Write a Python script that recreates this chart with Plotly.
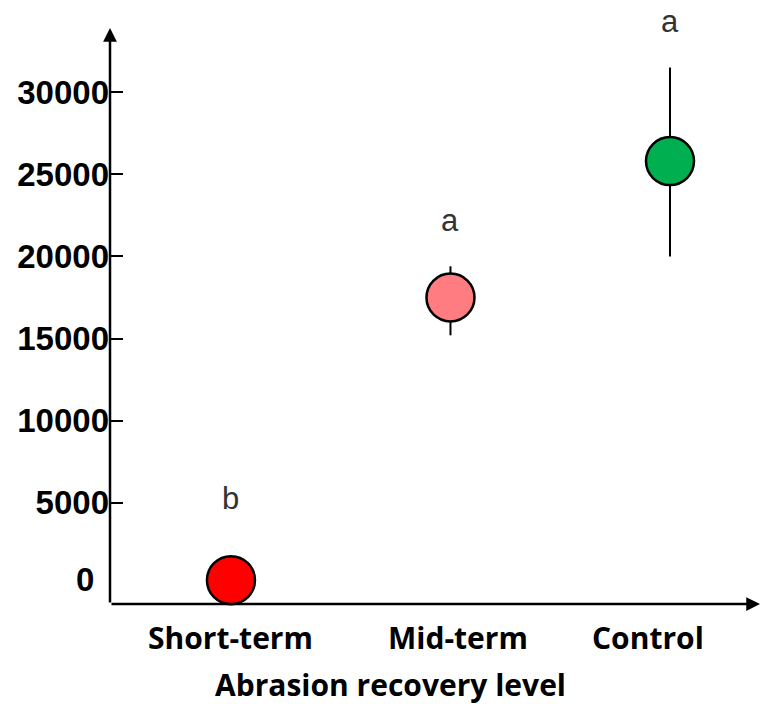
import plotly.graph_objects as go

categories = ["Short-term", "Mid-term", "Control"]
means = [300, 17500, 25800]
err_plus = [0, 1900, 5700]
err_minus = [0, 2300, 5800]
colors = ["#FF0000", "#FF7C80", "#00B050"]
letters = ["b", "a", "a"]
letter_y = [5300, 22200, 34300]
y_ticks = [5000, 10000, 15000, 20000, 25000, 30000]
y_ticktext = ["5000", "10000", "15000", "20000", "25000", "30000"]

xpos = list(range(len(categories)))
Y0, Y1 = -1150, 33900
label_shift = [0, 8, -22]  # pixel nudges of category labels

fig = go.Figure()
fig.add_trace(go.Scatter(
    x=xpos, y=means, mode="markers",
    marker=dict(size=48, color=colors, line=dict(color="black", width=2.5)),
    error_y=dict(type="data", symmetric=False, array=err_plus, arrayminus=err_minus,
                 color="black", thickness=2, width=0),
    cliponaxis=False, showlegend=False,
))

for xi, t, ly in zip(xpos, letters, letter_y):
    fig.add_annotation(x=xi, y=(ly - Y0) / (Y1 - Y0), xref="x", yref="paper", text=t,
                       showarrow=False, yanchor="middle",
                       font=dict(family="Liberation Sans", size=31, color="#333333"))

for xi, c, s in zip(xpos, categories, label_shift):
    fig.add_annotation(x=xi, y=0, xref="x", yref="paper", text="<b>%s</b>" % c,
                       showarrow=False, xshift=s, yshift=-33, yanchor="middle",
                       font=dict(family="Open Sans", size=30, color="black"))

# zero label (no tick mark in original)
fig.add_annotation(x=0, y=0, xref="paper", yref="y", text="<b>0</b>", showarrow=False,
                   xanchor="right", xshift=-14, yshift=6,
                   font=dict(family="Liberation Sans", size=33, color="black"))

# axis arrows
fig.add_annotation(x=0, y=1, xref="paper", yref="paper", ax=0, ay=576,
                   showarrow=True, arrowhead=2, arrowsize=1.1, arrowwidth=2.5,
                   arrowcolor="black", text="", standoff=0)
fig.add_annotation(x=1, y=0, xref="paper", yref="paper", ax=-650, ay=0,
                   showarrow=True, arrowhead=2, arrowsize=1.1, arrowwidth=2.5,
                   arrowcolor="black", text="", standoff=0)

fig.add_annotation(x=0.432, y=-0.1406, xref="paper", yref="paper", yanchor="middle",
                   text="<b>Abrasion recovery level</b>", showarrow=False,
                   font=dict(family="Open Sans", size=30, color="black"))

fig.update_layout(
    width=761, height=704,
    margin=dict(l=110, r=1, t=28, b=100),
    plot_bgcolor="white", paper_bgcolor="white",
    xaxis=dict(range=[-0.551, 2.41], tickvals=xpos, showticklabels=False,
               showgrid=False, zeroline=False, showline=False, ticks=""),
    yaxis=dict(range=[Y0, Y1], tickvals=y_ticks,
               ticktext=["<b>%s</b>" % t for t in y_ticktext],
               showgrid=False, zeroline=False, showline=False,
               ticks="inside", ticklen=13, tickwidth=2, tickcolor="black",
               tickfont=dict(family="Liberation Sans", size=33, color="black"),
               ticklabelstandoff=0),
)

fig.write_html("out.html")
